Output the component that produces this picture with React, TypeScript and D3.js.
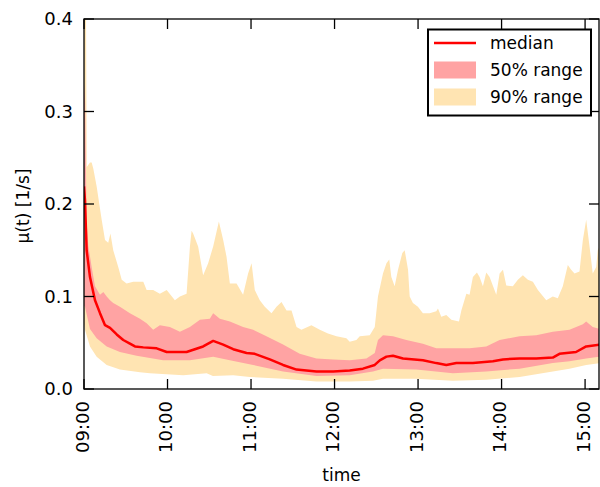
import React from "react";
import * as d3 from "d3";

// minutes after 09:00, value [1/s]
const p95: [number, number][] = [
  [0, 0.45], [1.4, 0.42], [2, 0.24], [4.3, 0.245], [5.5, 0.245], [6.7, 0.238], [9.1, 0.219], [11.5, 0.195],
  [12.7, 0.183], [15.1, 0.161], [17.4, 0.158], [19, 0.168], [21, 0.15], [24.6, 0.132], [27.1, 0.118],
  [30.6, 0.114], [35.4, 0.116], [39, 0.116], [42.6, 0.116], [45, 0.107], [49.7, 0.107], [54.5, 0.103],
  [59.4, 0.107], [65.3, 0.096], [68.9, 0.1], [73.7, 0.103], [76.1, 0.154], [77.3, 0.171], [78.4, 0.168],
  [82, 0.154], [85.6, 0.123], [89.2, 0.136], [92.8, 0.154], [96.9, 0.181], [100, 0.161], [102.4, 0.143],
  [104.8, 0.114], [109.6, 0.114], [114.3, 0.102], [117.9, 0.125], [120.4, 0.136], [122.7, 0.107],
  [126.3, 0.096], [129.9, 0.089], [134.7, 0.082], [138.3, 0.089], [141.9, 0.094], [145.5, 0.085],
  [149.1, 0.085], [152.7, 0.067], [156.2, 0.064], [163.4, 0.069], [169.4, 0.064], [175.3, 0.06],
  [181.4, 0.057], [188.5, 0.055], [190.9, 0.051], [195.7, 0.053], [198.1, 0.057], [205.3, 0.058],
  [208.9, 0.067], [211.2, 0.1], [214.8, 0.125], [217.3, 0.136], [219.3, 0.14], [220.8, 0.121],
  [223.2, 0.111], [225.6, 0.129], [228.7, 0.147], [230.4, 0.15], [232.8, 0.129], [234, 0.1],
  [236.3, 0.093], [239.9, 0.089], [243.5, 0.082], [248.3, 0.082], [253.1, 0.084], [254.3, 0.087],
  [256.7, 0.078], [260.3, 0.08], [263.9, 0.075], [269.4, 0.073], [271.1, 0.085], [274.7, 0.103],
  [277, 0.102], [279.4, 0.121], [282.3, 0.126], [284.2, 0.121], [286.6, 0.111], [289, 0.126],
  [291.4, 0.121], [296.2, 0.102], [298.6, 0.125], [301, 0.129], [303.4, 0.112], [308.1, 0.111],
  [311.7, 0.118], [315.3, 0.123], [318.9, 0.118], [322.5, 0.116], [326.1, 0.107], [332.1, 0.096],
  [336.8, 0.1], [340.4, 0.098], [344, 0.111], [347.6, 0.134], [350, 0.129], [352.4, 0.125], [356, 0.127],
  [358.4, 0.161], [360.8, 0.183], [363.2, 0.154], [365.5, 0.125], [368, 0.132], [369.1, 0.15], [370.3, 0.154],
];

const p05: [number, number][] = [
  [0, 0.07], [0.7, 0.064], [4.3, 0.046], [9.1, 0.035], [16.3, 0.026], [25.8, 0.021], [40.2, 0.018],
  [47.4, 0.017], [71.3, 0.015], [88.1, 0.017], [92.6, 0.014], [107.2, 0.015], [119.1, 0.013], [143, 0.011],
  [167, 0.008], [190.9, 0.008], [207.6, 0.009], [214.8, 0.011], [238.7, 0.011], [265, 0.009], [289, 0.01],
  [312.9, 0.013], [336.8, 0.019], [348.8, 0.022], [360.8, 0.026], [370.3, 0.028],
];

const p75: [number, number][] = [
  [0, 0.33], [0.8, 0.31], [1.9, 0.18], [3.1, 0.155], [5.5, 0.132], [7.9, 0.111], [11.5, 0.102], [13.9, 0.105],
  [16.3, 0.1], [18.7, 0.096], [21, 0.093], [25.8, 0.089], [33, 0.082], [40.2, 0.076], [45, 0.071],
  [49.7, 0.064], [54.5, 0.069], [61.7, 0.067], [68.9, 0.062], [76.1, 0.067], [83.3, 0.075], [90.4, 0.076],
  [92.8, 0.082], [97.6, 0.076], [104.8, 0.073], [114.3, 0.067], [121.5, 0.064], [131.1, 0.057], [143, 0.048],
  [155, 0.038], [167, 0.033], [179, 0.032], [190.9, 0.031], [202.9, 0.033], [208.9, 0.039], [211.2, 0.053],
  [214.8, 0.058], [222, 0.057], [231.6, 0.053], [243.5, 0.049], [253.1, 0.044], [265, 0.044], [277, 0.044],
  [289, 0.046], [298.6, 0.053], [312.9, 0.057], [324.9, 0.058], [336.8, 0.062], [348.8, 0.064],
  [358.4, 0.07], [360.8, 0.073], [365.5, 0.067], [370.3, 0.065],
];

const p25: [number, number][] = [
  [0, 0.09], [0.7, 0.089], [4.3, 0.065], [9.1, 0.055], [16.3, 0.046], [25.8, 0.04], [37.8, 0.036],
  [56.9, 0.031], [76.1, 0.031], [92.8, 0.035], [104.8, 0.031], [121.5, 0.026], [143, 0.019], [167, 0.014],
  [190.9, 0.015], [207.6, 0.019], [214.8, 0.022], [238.7, 0.021], [265, 0.017], [289, 0.019], [312.9, 0.022],
  [336.8, 0.028], [348.8, 0.03], [360.8, 0.033], [370.3, 0.035],
];

const median: [number, number][] = [
  [0, 0.219], [0.7, 0.204], [1.9, 0.15], [4.3, 0.121], [7.9, 0.096], [11.5, 0.082], [15.1, 0.069],
  [18.7, 0.066], [23.5, 0.059], [28.2, 0.053], [33, 0.049], [36.6, 0.046], [42.6, 0.045], [52.2, 0.044],
  [59.4, 0.04], [73.7, 0.04], [85.6, 0.046], [92.8, 0.052], [100, 0.048], [107.2, 0.043], [116.8, 0.039],
  [122.7, 0.038], [133.5, 0.032], [143, 0.026], [152.7, 0.021], [167, 0.019], [179, 0.019], [190.9, 0.02],
  [200.4, 0.022], [208.9, 0.026], [212.5, 0.031], [217.3, 0.035], [222, 0.036], [229.2, 0.033],
  [243.5, 0.031], [253.1, 0.028], [260.3, 0.026], [267.5, 0.028], [279.4, 0.028], [293.8, 0.03],
  [301, 0.032], [312.9, 0.033], [324.9, 0.033], [336.8, 0.034], [341.6, 0.038], [353.5, 0.04],
  [360.8, 0.046], [370.3, 0.048],
];

const xTickMinutes = [0, 60, 120, 180, 240, 300, 360];
const yTicks = [0, 0.1, 0.2, 0.3, 0.4];
const legendItems = [
  { label: "median", kind: "line" },
  { label: "50% range", kind: "p50" },
  { label: "90% range", kind: "p90" },
];

const W = 600, H = 487;
const L = 84, R = 599, T = 19, B = 389;
const RED = "#ff0000", PINK = "#ffa3a3", ORANGE = "#ffe4b2";
const FONT = "'DejaVu Sans', sans-serif";
const TICK = 10;

export default function App() {
  const x = d3.scaleLinear().domain([0, 370]).range([L, R]);
  const y = d3.scaleLinear().domain([0, 0.4]).range([B, T]);
  const line = d3.line<[number, number]>().x((d) => x(d[0])).y((d) => y(d[1]));
  const band = (up: [number, number][], lo: [number, number][]) =>
    (line(up.concat(lo.slice().reverse())) || "") + "Z";
  const fmtTime = (m: number) => d3.format("02d")(9 + Math.floor(m / 60)) + ":" + d3.format("02d")(m % 60);

  return (
    <svg width={W} height={H} style={{ position: "absolute", left: 0, top: 0, background: "#fff" }} fontFamily={FONT}>
      <defs>
        <clipPath id="plot">
          <rect x={L} y={T} width={R - L} height={B - T} />
        </clipPath>
      </defs>
      <g clipPath="url(#plot)">
        <path d={band(p95, p05)} fill={ORANGE} />
        <path d={band(p75, p25)} fill={PINK} />
        <path d={line(median) || ""} fill="none" stroke={RED} strokeWidth={2.5} strokeLinejoin="round" />
      </g>
      {/* spines */}
      <rect x={L} y={T} width={R - L} height={B - T} fill="none" stroke="#000" strokeWidth={1.3} />
      {/* y ticks */}
      {yTicks.map((v) => (
        <g key={"y" + v}>
          <line x1={L} x2={L + TICK} y1={y(v)} y2={y(v)} stroke="#000" strokeWidth={1.3} />
          <line x1={R - TICK} x2={R} y1={y(v)} y2={y(v)} stroke="#000" strokeWidth={1.3} />
          <text x={L - 11} y={y(v)} dy="0.36em" textAnchor="end" fontSize={18}>
            {d3.format(".1f")(v)}
          </text>
        </g>
      ))}
      {/* x ticks */}
      {xTickMinutes.map((m) => (
        <g key={"x" + m}>
          <line x1={x(m)} x2={x(m)} y1={B} y2={B - TICK} stroke="#000" strokeWidth={1.3} />
          <line x1={x(m)} x2={x(m)} y1={T} y2={T + TICK} stroke="#000" strokeWidth={1.3} />
          <text transform={`translate(${x(m)},${B + 12}) rotate(-90)`} dy="0.26em" textAnchor="end" fontSize={18}>
            {fmtTime(m)}
          </text>
        </g>
      ))}
      <text x={(L + R) / 2} y={481} textAnchor="middle" fontSize={17}>time</text>
      <text transform={`translate(29,${(T + B) / 2 + 2}) rotate(-90)`} textAnchor="middle" fontSize={17}>
        μ(t) [1/s]
      </text>
      {/* legend */}
      <g>
        <rect x={428} y={29.5} width={163} height={86} fill="#fff" stroke="#000" strokeWidth={2} />
        {legendItems.map((it, i) => {
          const cy = 43 + i * 27;
          return (
            <g key={it.label}>
              {it.kind === "line" ? (
                <line x1={434} x2={476} y1={cy} y2={cy} stroke={RED} strokeWidth={2.5} />
              ) : (
                <rect x={434} y={cy - 8.5} width={42} height={17} fill={it.kind === "p50" ? PINK : ORANGE} />
              )}
              <text x={490} y={cy} dy="0.36em" fontSize={17}>{it.label}</text>
            </g>
          );
        })}
      </g>
    </svg>
  );
}
